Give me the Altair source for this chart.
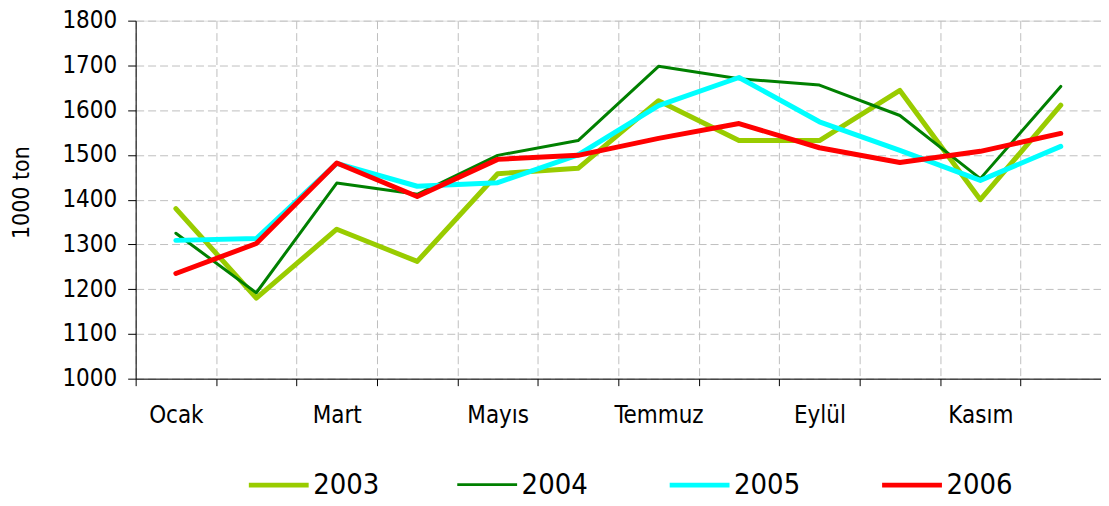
import altair as alt
import pandas as pd

months = ["Ocak", "Şubat", "Mart", "Nisan", "Mayıs", "Haziran",
          "Temmuz", "Ağustos", "Eylül", "Ekim", "Kasım", "Aralık"]
years = ["2003", "2004", "2005", "2006"]
v2003 = [1380, 1180, 1334, 1262, 1458, 1470, 1621, 1532, 1532, 1644, 1400, 1611]
v2004 = [1325, 1192, 1437, 1412, 1499, 1532, 1698, 1670, 1656, 1588, 1447, 1653]
v2005 = [1309, 1313, 1481, 1430, 1438, 1500, 1610, 1673, 1574, 1510, 1443, 1519]
v2006 = [1235, 1302, 1482, 1407, 1490, 1499, 1537, 1570, 1516, 1483, 1508, 1548]
colors = ["#99CC00", "#008000", "#00FFFF", "#FF0000"]
widths = [5, 3, 5, 5]

rows = []
for y, vals in zip(years, [v2003, v2004, v2005, v2006]):
    for i, (m, v) in enumerate(zip(months, vals)):
        rows.append({"year": y, "idx": i, "month": m, "value": v})
df = pd.DataFrame(rows)

FONT = "DejaVu Sans Condensed, DejaVu Sans, sans-serif"
names_js = "[" + ",".join("'" + m + "'" for m in months) + "]"
x_vals = [i / 2 for i in range(-1, 23)]

x_axis = alt.Axis(
    values=x_vals,
    title=None,
    labelExpr=f"(datum.value % 2 === 0) ? {names_js}[datum.value] : ''",
    tickOpacity={"condition": {"test": "datum.value % 1 !== 0", "value": 1}, "value": 0},
    gridOpacity={"condition": {"test": "datum.value % 1 !== 0", "value": 1}, "value": 0},
    tickSize=7,
    tickColor="#000000",
    labelPadding=18,
    labelFontSize=24,
    labelFont=FONT,
    labelColor="#000000",
    labelAngle=0,
    domainColor="#000000",
    grid=True,
    gridColor="#BFBFBF",
    gridDash=[8, 4],
    gridWidth=1,
    labelOverlap=False,
    labelFlush=False,
)

y_axis = alt.Axis(
    values=list(range(1000, 1801, 100)),
    format="d",
    title="1000 ton",
    titleFont=FONT,
    titleFontSize=23,
    titleFontWeight="normal",
    titleColor="#000000",
    titleAngle=270,
    titleX=-114,
    titleY=172,
    titleAlign="center",
    titleBaseline="middle",
    tickSize=8,
    tickColor="#000000",
    labelPadding=11,
    labelFontSize=24,
    labelFont=FONT,
    labelColor="#000000",
    domainColor="#000000",
    grid=True,
    gridColor="#BFBFBF",
    gridDash=[8, 4],
    gridWidth=1,
)

chart = alt.Chart(df).mark_line(strokeJoin="round", strokeCap="round").encode(
    x=alt.X("idx:Q", scale=alt.Scale(domain=[-0.5, 11.5], nice=False, zero=False), axis=x_axis),
    y=alt.Y("value:Q", scale=alt.Scale(domain=[1000, 1800], nice=False, zero=False), axis=y_axis),
    color=alt.Color("year:N", scale=alt.Scale(domain=years, range=colors),
                    legend=alt.Legend(title=None, orient="none", direction="horizontal",
                                      legendX=111, legendY=433, columns=4,
                                      columnPadding=71, symbolType="stroke",
                                      symbolSize=3600, labelOffset=2,
                                      labelFont=FONT, labelFontSize=29,
                                      labelColor="#000000", labelLimit=0)),
    strokeWidth=alt.StrokeWidth("year:N", scale=alt.Scale(type="ordinal", domain=years, range=widths)),
    order=alt.Order("idx:Q"),
).properties(
    width=968,
    height=359,
    padding={"left": 128, "top": 12, "right": 0, "bottom": 126},
    autosize=alt.AutoSizeParams(type="none"),
).configure_view(stroke=None).configure(background="#FFFFFF")

chart.save("out.html", embed_options={"renderer": "svg", "actions": False})
